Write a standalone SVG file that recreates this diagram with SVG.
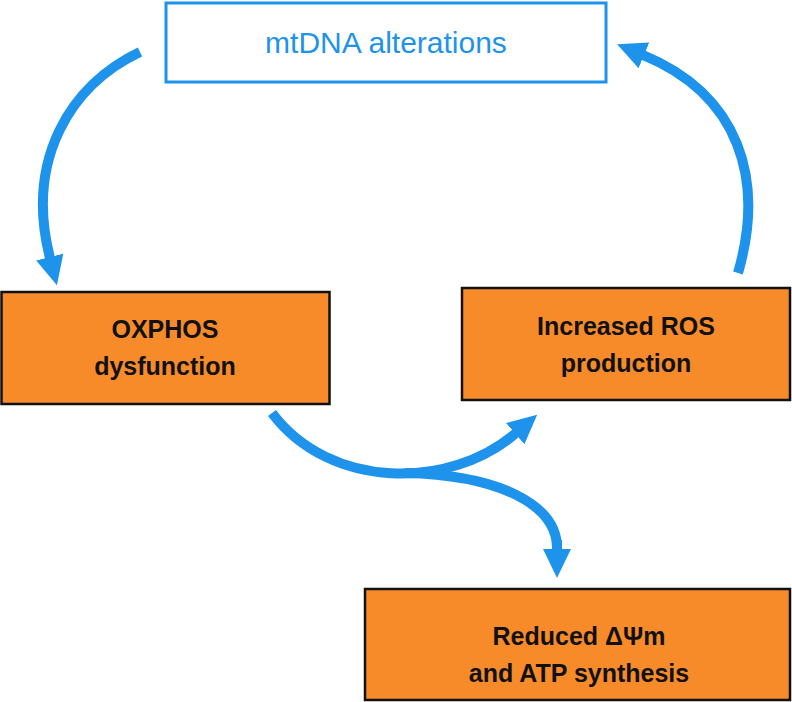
<svg xmlns="http://www.w3.org/2000/svg" width="792" height="702" viewBox="0 0 792 702">
<style>
.box{fill:#F78B2A;stroke:#111;stroke-width:2.5}
.top{fill:#fff;stroke:#1E93EC;stroke-width:3}
.lbl{font-family:"Liberation Sans",Arial,sans-serif;font-weight:bold;font-size:25px;fill:#111;text-anchor:middle}
.tlbl{font-family:"Liberation Sans",Arial,sans-serif;font-size:30px;fill:#1E93EC;text-anchor:middle}
.arc{fill:none;stroke:#1E93EC;stroke-width:10;marker-end:url(#ah)}
.arcn{fill:none;stroke:#1E93EC;stroke-width:10}
</style>
<defs>
<marker id="ah" markerUnits="userSpaceOnUse" markerWidth="30" markerHeight="30" viewBox="0 0 30 30" refX="1" refY="15" orient="auto">
<path d="M0,1 L29,15 L0,29 z" fill="#1E93EC"/>
</marker>
</defs>
<rect width="792" height="702" fill="#fff"/>
<g id="connectors">
<path class="arc" d="M140,52 C70,85 25,160 50,258"/>
<path class="arc" d="M738,273 C765,180 740,95 643,55"/>
<path class="arc" d="M272,413 C330,490 450,490 516,433"/>
<path class="arcn" d="M405,473 C500,475 557,505 557,548"/>
<path class="arc" d="M557,540 L557,550"/>
</g>
<g id="mtdna">
<rect class="top" x="166" y="3" width="440" height="79"/>
<text class="tlbl" x="386" y="53">mtDNA alterations</text>
</g>
<g id="oxphos">
<rect class="box" x="1.5" y="292" width="328" height="112"/>
<text class="lbl" x="165" y="338">OXPHOS</text>
<text class="lbl" x="165" y="375">dysfunction</text>
</g>
<g id="ros">
<rect class="box" x="462" y="288" width="328" height="112"/>
<text class="lbl" x="626" y="335">Increased ROS</text>
<text class="lbl" x="626" y="372">production</text>
</g>
<g id="atp">
<rect class="box" x="365" y="589" width="425" height="111"/>
<text class="lbl" x="579" y="645">Reduced ΔΨm</text>
<text class="lbl" x="579" y="682">and ATP synthesis</text>
</g>
</svg>
